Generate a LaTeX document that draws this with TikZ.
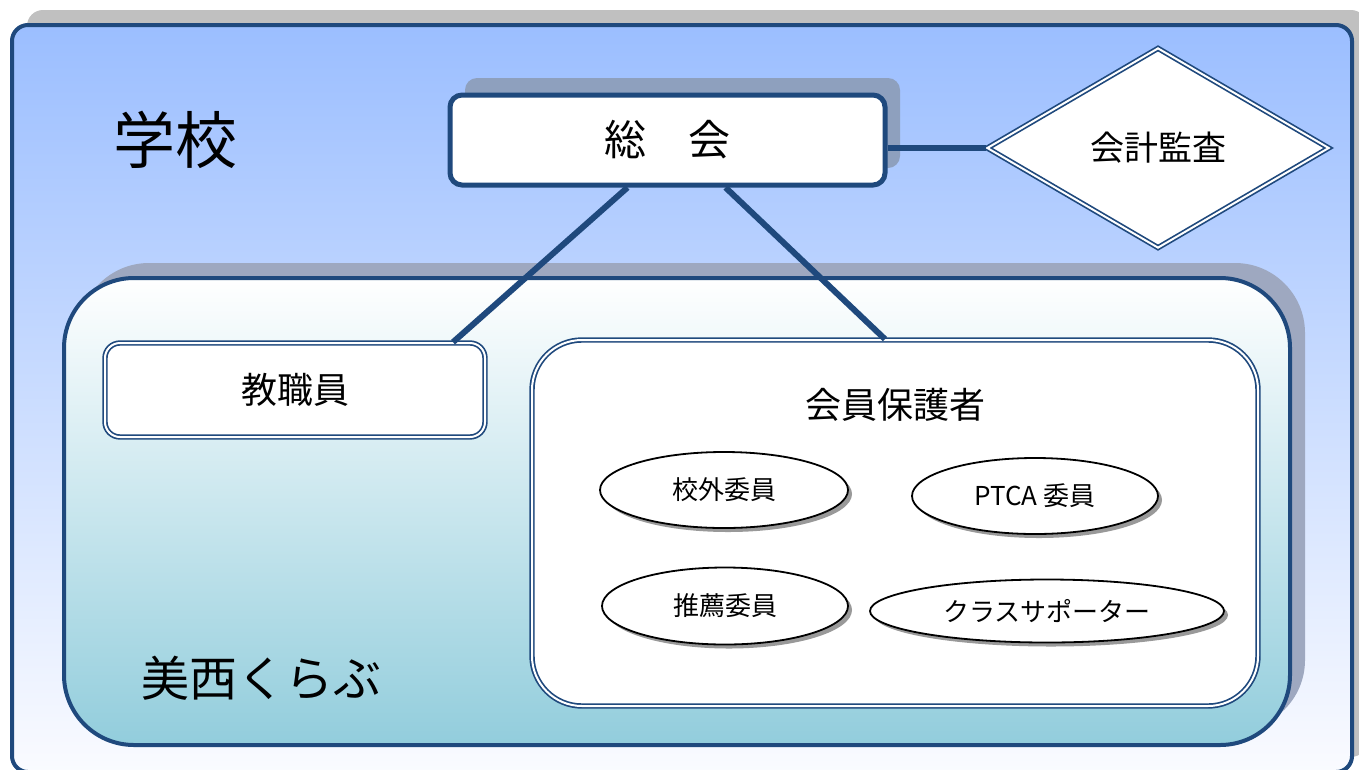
\documentclass[tikz,border=0pt]{standalone}
\usepackage{fontspec}
\setmainfont{Noto Sans CJK JP}
\usepackage{xcolor}
\usetikzlibrary{positioning,shapes.geometric,shadows}

\definecolor{borderblue}{RGB}{31,73,125}
\definecolor{schooltop}{RGB}{155,190,255}
\definecolor{schoolbottom}{RGB}{250,251,255}
\definecolor{clubbottom}{RGB}{146,205,220}
\definecolor{shadowgray}{RGB}{192,192,192}
\definecolor{soukaishadow}{RGB}{142,160,190}
\definecolor{clubshadow}{RGB}{158,168,192}

\begin{document}
\begin{tikzpicture}[x=1pt,y=-1pt,
  every node/.style={inner sep=0pt},
  container/.style={draw=borderblue, line width=4pt, rectangle},
  dblbox/.style={draw=borderblue, double=white, double distance=2pt, line width=1.7pt, fill=white},
  member/.style={ellipse, draw=black, line width=1.8pt, fill=white,
    drop shadow={shadow xshift=4pt, shadow yshift=-4pt, fill=gray!80, opacity=1},
    font=\fontsize{26}{30}\selectfont},
  link/.style={draw=borderblue, line width=6pt}]
  \useasboundingbox (0,0) rectangle (1359,769);

  % containers
  \node[container, rounded corners=16pt, minimum width=1340pt, minimum height=747pt,
        top color=schooltop, bottom color=schoolbottom,
        general shadow={shadow xshift=15pt, shadow yshift=15pt, fill=shadowgray}]
        (school) at (682,398.5) {};
  \node[font=\fontsize{62}{70}\selectfont] (schoolname) at (175,140) {学校};

  \node[container, rounded corners=70pt, minimum width=1226pt, minimum height=467pt,
        top color=white, bottom color=clubbottom,
        general shadow={shadow xshift=15pt, shadow yshift=15pt, fill=clubshadow}]
        (club) at (677,511.5) {};
  \node[font=\fontsize{48}{56}\selectfont] (clubname) at (261,678) {美西くらぶ};

  % top level
  \node[draw=borderblue, line width=5pt, fill=white, rounded corners=12pt,
        minimum width=435pt, minimum height=90pt,
        general shadow={shadow xshift=15pt, shadow yshift=17pt, fill=soukaishadow},
        font=\fontsize{42}{48}\selectfont]
        (soukai) at (667.5,140) {\raisebox{-5pt}{総\hspace{1em}会}};
  \node[diamond, aspect=1.7, dblbox, minimum width=342pt, minimum height=200pt,
        font=\fontsize{34}{40}\selectfont]
        (audit) at (1158,148) {会計監査};

  % members
  \node[dblbox, rounded corners=15pt, minimum width=380pt, minimum height=94pt,
        font=\fontsize{36}{42}\selectfont]
        (staff) at (295,390) {教職員};
  \node[dblbox, rounded corners=50pt, minimum width=726pt, minimum height=366pt]
        (parents) at (895,523) {};
  \node[font=\fontsize{36}{42}\selectfont] (parentsname) at (895,405) {会員保護者};

  \node[member, minimum width=248pt, minimum height=76pt] (outside)   at (724,490)  {校外委員};
  \node[member, minimum width=246pt, minimum height=76pt] (ptca)      at (1035,496) {PTCA 委員};
  \node[member, minimum width=246pt, minimum height=77pt] (recommend) at (725,606)  {推薦委員};
  \node[member, minimum width=354pt, minimum height=63pt] (supporter) at (1047,611) {クラスサポーター};

  \path[link]
  (soukai.east |- audit.west) edge (audit.west)
  ([xshift=-40pt]soukai.south) edge ([xshift=158pt]staff.north)
  ([xshift=58pt]soukai.south) edge ([xshift=-10pt]parents.north);
\end{tikzpicture}
\end{document}
